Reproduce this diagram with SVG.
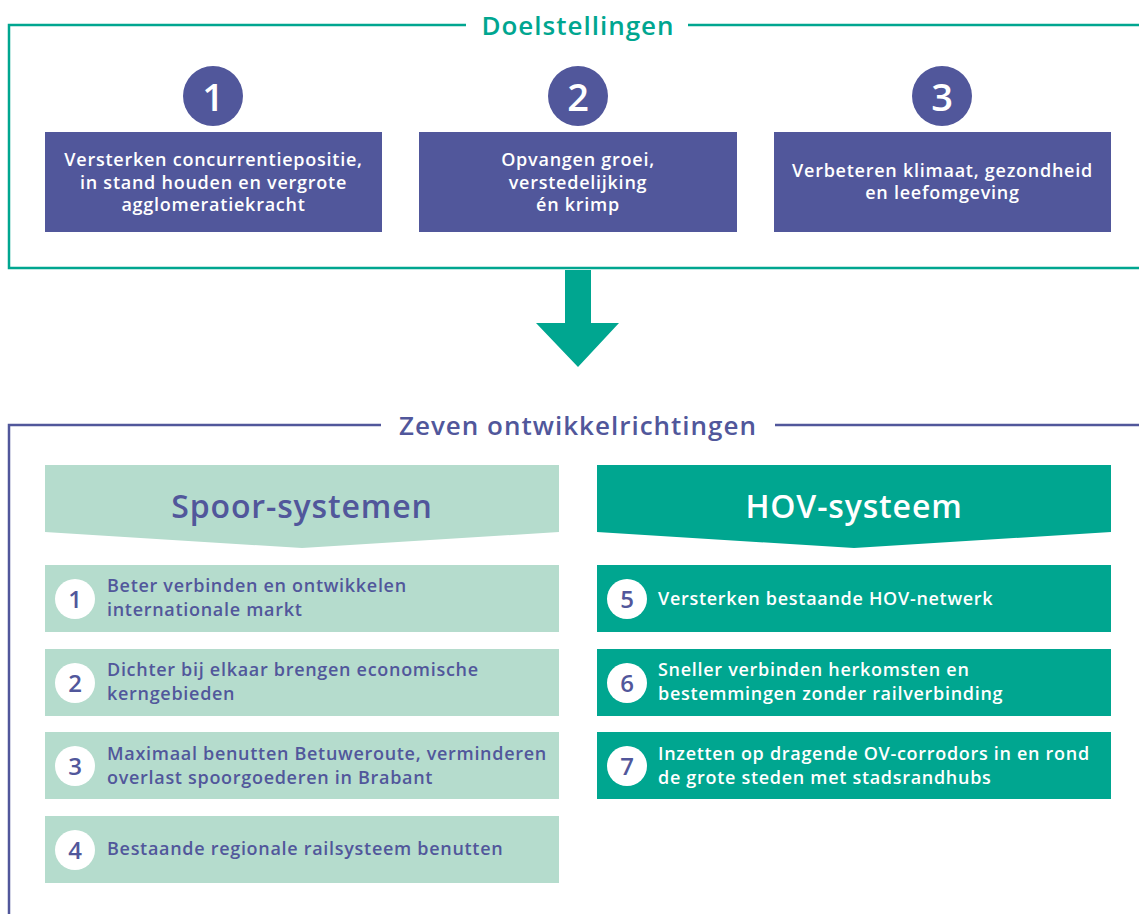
<svg xmlns="http://www.w3.org/2000/svg" width="1139" height="914" viewBox="0 0 1139 914">
<style>
.t{font-family:"Open Sans","Noto Sans","Liberation Sans",sans-serif;font-weight:600}
.goal{fill:#51579b}
.gt{fill:#fff;font-size:18px;letter-spacing:0.75px;text-anchor:middle}
.gn{fill:#fff;font-size:38px;text-anchor:middle;font-weight:600}
.title{font-size:26px;letter-spacing:1px;text-anchor:middle}
.hd{font-size:32px;letter-spacing:0.85px;text-anchor:middle}
.lite{fill:#b5dccd}
.teal{fill:#00a690}
.it{font-size:18px;letter-spacing:0.7px}
.in{font-size:24px;text-anchor:middle;fill:#51579b}
</style>
<rect width="1139" height="914" fill="#fff"/>
<g id="frame-doelstellingen">
<path d="M466,25 H9 V268 H1139 M688,25 H1139" fill="none" stroke="#00a690" stroke-width="2.5"/>
<text class="t title" x="578" y="35" fill="#00a690">Doelstellingen</text>
</g>
<g id="goal1">
<circle class="goal" cx="213" cy="96" r="30"/>
<text class="t gn" x="213" y="111">1</text>
<rect class="goal" x="45" y="132" width="337" height="100"/>
<text class="t gt" x="213.5" y="166">Versterken concurrentiepositie,</text>
<text class="t gt" x="213.5" y="189">in stand houden en vergrote</text>
<text class="t gt" x="213.5" y="211">agglomeratiekracht</text>
</g>
<g id="goal2">
<circle class="goal" cx="578" cy="96" r="30"/>
<text class="t gn" x="578" y="111">2</text>
<rect class="goal" x="419" y="132" width="318" height="100"/>
<text class="t gt" x="578" y="166">Opvangen groei,</text>
<text class="t gt" x="578" y="189">verstedelijking</text>
<text class="t gt" x="578" y="211">én krimp</text>
</g>
<g id="goal3">
<circle class="goal" cx="942" cy="96" r="30"/>
<text class="t gn" x="942" y="111">3</text>
<rect class="goal" x="774" y="132" width="337" height="100"/>
<text class="t gt" x="942.5" y="177">Verbeteren klimaat, gezondheid</text>
<text class="t gt" x="942.5" y="199">en leefomgeving</text>
</g>
<g id="connectors">
<polygon class="teal" points="565,270 591,270 591,323 619,323 578,367 536,323 565,323"/>
</g>
<g id="frame-ontwikkelrichtingen">
<path d="M381,425 H9 V914 M775,425 H1139" fill="none" stroke="#51579b" stroke-width="2.5"/>
<text class="t title" x="578" y="435" fill="#51579b">Zeven ontwikkelrichtingen</text>
</g>
<g id="header-spoor">
<polygon class="lite" points="45,465 559,465 559,532 302,548 45,532"/>
<text class="t hd" x="302" y="518" fill="#51579b">Spoor-systemen</text>
</g>
<g id="header-hov">
<polygon class="teal" points="597,465 1111,465 1111,532 854,548 597,532"/>
<text class="t hd" x="854" y="518" fill="#fff">HOV-systeem</text>
</g>
<g id="item1">
<rect class="lite" x="45" y="565" width="514" height="67"/>
<circle cx="75" cy="599" r="20" fill="#fff"/>
<text class="t in" x="75" y="608">1</text>
<text class="t it" x="107" y="592" fill="#51579b">Beter verbinden en ontwikkelen</text>
<text class="t it" x="107" y="616" fill="#51579b">internationale markt</text>
</g>
<g id="item2">
<rect class="lite" x="45" y="649" width="514" height="67"/>
<circle cx="75" cy="683" r="20" fill="#fff"/>
<text class="t in" x="75" y="692">2</text>
<text class="t it" x="107" y="676" fill="#51579b">Dichter bij elkaar brengen economische</text>
<text class="t it" x="107" y="700" fill="#51579b">kerngebieden</text>
</g>
<g id="item3">
<rect class="lite" x="45" y="732" width="514" height="67"/>
<circle cx="75" cy="766" r="20" fill="#fff"/>
<text class="t in" x="75" y="775">3</text>
<text class="t it" x="107" y="760" fill="#51579b">Maximaal benutten Betuweroute, verminderen</text>
<text class="t it" x="107" y="784" fill="#51579b">overlast spoorgoederen in Brabant</text>
</g>
<g id="item4">
<rect class="lite" x="45" y="816" width="514" height="67"/>
<circle cx="75" cy="850" r="20" fill="#fff"/>
<text class="t in" x="75" y="859">4</text>
<text class="t it" x="107" y="855" fill="#51579b">Bestaande regionale railsysteem benutten</text>
</g>
<g id="item5">
<rect class="teal" x="597" y="565" width="514" height="67"/>
<circle cx="627" cy="599" r="20" fill="#fff"/>
<text class="t in" x="627" y="608">5</text>
<text class="t it" x="658" y="605" fill="#fff">Versterken bestaande HOV-netwerk</text>
</g>
<g id="item6">
<rect class="teal" x="597" y="649" width="514" height="67"/>
<circle cx="627" cy="683" r="20" fill="#fff"/>
<text class="t in" x="627" y="692">6</text>
<text class="t it" x="658" y="676" fill="#fff">Sneller verbinden herkomsten en</text>
<text class="t it" x="658" y="700" fill="#fff">bestemmingen zonder railverbinding</text>
</g>
<g id="item7">
<rect class="teal" x="597" y="732" width="514" height="67"/>
<circle cx="627" cy="766" r="20" fill="#fff"/>
<text class="t in" x="627" y="775">7</text>
<text class="t it" x="658" y="760" fill="#fff">Inzetten op dragende OV-corrodors in en rond</text>
<text class="t it" x="658" y="784" fill="#fff">de grote steden met stadsrandhubs</text>
</g>
</svg>
